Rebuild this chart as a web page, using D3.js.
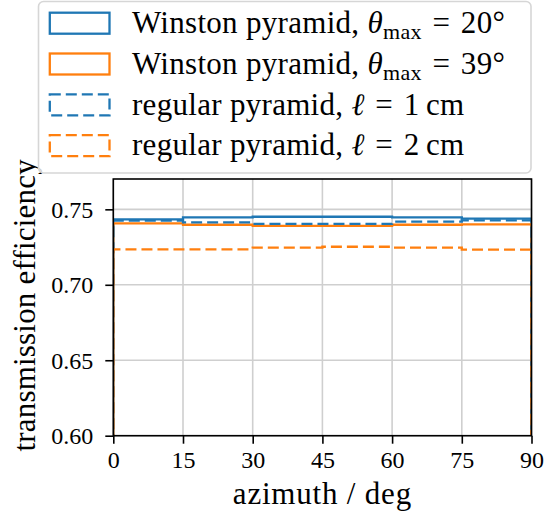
<!DOCTYPE html>
<html>
<head>
<meta charset="utf-8">
<script src="https://cdn.jsdelivr.net/npm/d3@7"></script>
<style>
  html, body { margin: 0; padding: 0; background: #fff; }
  svg text { font-family: "Liberation Serif", "DejaVu Serif", serif; fill: #000; }
</style>
</head>
<body>
<svg id="chart" width="554" height="523"></svg>
<script>
// ---- data ----
const binEdges = [0, 15, 30, 45, 60, 75, 90];
const winston20 = [0.7434, 0.7447, 0.7451, 0.7451, 0.7447, 0.7438];
const winston39 = [0.7407, 0.7398, 0.7391, 0.7391, 0.7398, 0.7400];
const regular1 = [0.7425, 0.7414, 0.7403, 0.7403, 0.7418, 0.7427];
const regular2 = [0.7235, 0.7235, 0.7246, 0.7252, 0.7246, 0.7233];
const xTicks = [0, 15, 30, 45, 60, 75, 90];
const yTicks = [0.60, 0.65, 0.70, 0.75];
const xLabel = "azimuth / deg";
const yLabel = "transmission efficiency";

const series = [
  { values: winston20, color: "#1f77b4", dashed: false, label: [["Winston pyramid, ", ""], ["θ", "it"], ["max", "sub"], ["\u2004=\u200420°", "up"]] },
  { values: winston39, color: "#ff7f0e", dashed: false, label: [["Winston pyramid, ", ""], ["θ", "it"], ["max", "sub"], ["\u2004=\u200439°", "up"]] },
  { values: regular1, color: "#1f77b4", dashed: true, label: [["regular pyramid, ", ""], ["ℓ", "it"], ["\u2004=\u20041\u2009cm", ""]] },
  { values: regular2, color: "#ff7f0e", dashed: true, label: [["regular pyramid, ", ""], ["ℓ", "it"], ["\u2004=\u20042\u2009cm", ""]] }
];

// ---- layout ----
const L = 113.3, R = 531.5, T = 179, B = 435.7;
const svg = d3.select("#chart");
const x = d3.scaleLinear().domain([0, 90]).range([L, R]);
const y = d3.scaleLinear().domain([0.6, 0.7701]).range([B, T]);

svg.append("defs").append("clipPath").attr("id", "clip")
  .append("rect").attr("x", L).attr("y", T).attr("width", R - L).attr("height", B - T);

// grid
const grid = svg.append("g");
grid.selectAll(".gx").data(xTicks).join("line")
  .attr("x1", d => x(d)).attr("x2", d => x(d)).attr("y1", T).attr("y2", B)
  .attr("stroke", "#cfcfcf").attr("stroke-width", 1.6);
grid.selectAll(".gy").data(yTicks).join("line")
  .attr("x1", L).attr("x2", R).attr("y1", d => y(d)).attr("y2", d => y(d))
  .attr("stroke", "#cfcfcf").attr("stroke-width", 1.6);

// step histograms
const line = d3.line().x(d => x(d[0])).y(d => y(d[1]));
function stepPoints(vals) {
  const pts = [[binEdges[0], 0]];
  vals.forEach((v, i) => { pts.push([binEdges[i], v]); pts.push([binEdges[i + 1], v]); });
  pts.push([binEdges[binEdges.length - 1], 0]);
  return pts;
}
const plot = svg.append("g").attr("clip-path", "url(#clip)");
series.forEach(s => {
  plot.append("path").attr("d", line(stepPoints(s.values)))
    .attr("fill", "none").attr("stroke", s.color).attr("stroke-width", 2.3)
    .attr("stroke-dasharray", s.dashed ? "11,5" : null)
    .attr("stroke-linejoin", "miter");
});

// axes
const xAxis = d3.axisBottom(x).tickValues(xTicks).tickFormat(d3.format("d")).tickSize(8).tickPadding(7);
const yAxis = d3.axisLeft(y).tickValues(yTicks).tickFormat(d3.format(".2f")).tickSize(8).tickPadding(12);
const gx = svg.append("g").attr("transform", `translate(0,${B})`).call(xAxis);
const gy = svg.append("g").attr("transform", `translate(${L},0)`).call(yAxis);
[gx, gy].forEach(g => {
  g.select(".domain").remove();
  g.selectAll(".tick line").attr("stroke", "#000").attr("stroke-width", 1.6);
  g.selectAll(".tick text").style("font-size", "24px").style("font-family", "Liberation Serif");
});
gx.selectAll(".tick text").attr("dy", "0.71em");
gy.selectAll(".tick text").attr("dy", "0.33em");

// spines
svg.append("rect").attr("x", L).attr("y", T).attr("width", R - L).attr("height", B - T)
  .attr("fill", "none").attr("stroke", "#000").attr("stroke-width", 1.6);

// axis labels
svg.append("text").attr("x", (L + R) / 2).attr("y", 504).attr("text-anchor", "middle")
  .style("font-size", "31px").style("letter-spacing", "0.8px").text(xLabel);
svg.append("text").attr("transform", `translate(35,${(T + B) / 2 - 2}) rotate(-90)`).attr("text-anchor", "middle")
  .style("font-size", "31px").style("letter-spacing", "0.2px").text(yLabel);

// legend
const lg = svg.append("g");
lg.append("rect").attr("x", 38.5).attr("y", 1.5).attr("width", 492.5).attr("height", 171.5)
  .attr("rx", 5).attr("fill", "#fff").attr("fill-opacity", 0.8)
  .attr("stroke", "#d6d6d6").attr("stroke-width", 1.6);
series.forEach((s, i) => {
  const top = 12.7 + i * 40.8;
  lg.append("rect").attr("x", 49.8).attr("y", top).attr("width", 59.7).attr("height", 21)
    .attr("fill", "none").attr("stroke", s.color).attr("stroke-width", 2.3)
    .attr("stroke-dasharray", s.dashed ? "11,5" : null);
  const t = lg.append("text").attr("x", 132).attr("y", 33.3 + i * 40.7)
    .style("font-size", "31px").style("letter-spacing", "0.3px");
  s.label.forEach(([txt, kind]) => {
    const ts = t.append("tspan").text(txt);
    if (kind === "it") ts.style("font-style", "italic");
    if (kind === "sub") ts.attr("dy", 6).style("font-size", "22px");
    if (kind === "up") ts.attr("dy", -6);
  });
});
</script>
</body>
</html>
